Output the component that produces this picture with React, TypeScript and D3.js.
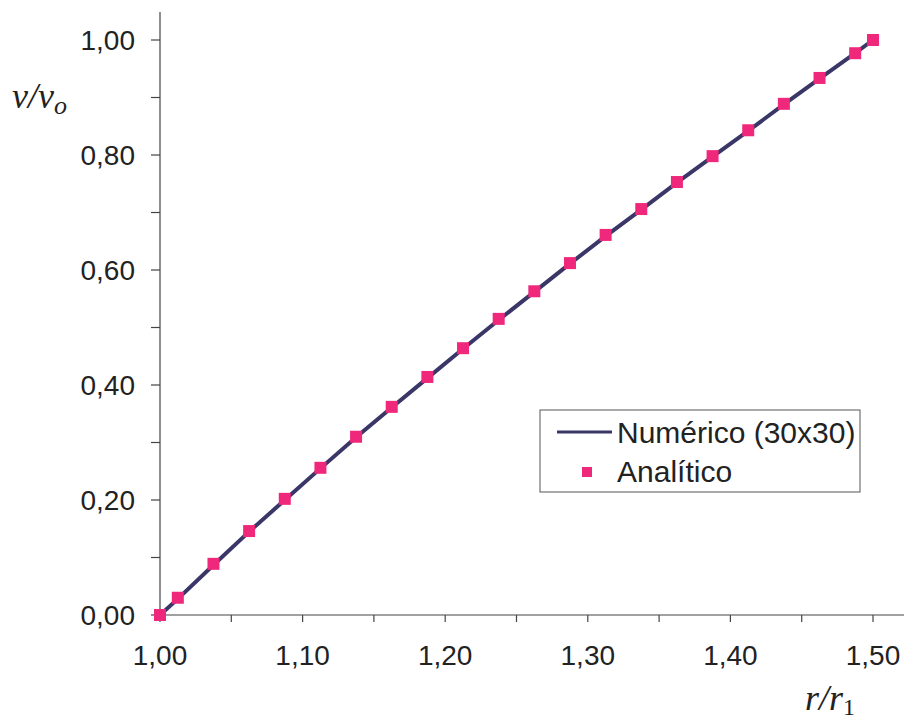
import React, { useRef, useEffect } from 'react';
import * as d3 from 'd3';

// r/r1 positions of the grid points
const radii = [1.0, 1.0125, 1.0375, 1.0625, 1.0875, 1.1125, 1.1375, 1.1625, 1.1875, 1.2125, 1.2375,
  1.2625, 1.2875, 1.3125, 1.3375, 1.3625, 1.3875, 1.4125, 1.4375, 1.4625, 1.4875, 1.5];
// analytic v/vo
const analytic = [0.0, 0.03, 0.089, 0.146, 0.202, 0.256, 0.31, 0.362, 0.414, 0.464, 0.515,
  0.563, 0.612, 0.661, 0.706, 0.753, 0.798, 0.843, 0.889, 0.934, 0.977, 1.0];
// numeric (30x30) v/vo
const numeric = [0.0, 0.028, 0.087, 0.145, 0.2, 0.255, 0.309, 0.361, 0.412, 0.463, 0.513,
  0.562, 0.611, 0.659, 0.705, 0.752, 0.797, 0.842, 0.888, 0.933, 0.977, 1.0];

const xTickLabels = [1.0, 1.1, 1.2, 1.3, 1.4, 1.5];
const yTickLabels = [0, 0.2, 0.4, 0.6, 0.8, 1.0];
const seriesNames = ['Numérico (30x30)', 'Analítico'];

const fmt = (d: number) => d.toFixed(2).replace('.', ',');

const App = () => {
  const svgRef = useRef<SVGSVGElement>(null);

  useEffect(() => {
    const width = 904;
    const height = 726;
    const svg = d3.select(svgRef.current)
      .attr('width', width)
      .attr('height', height)
      .style('background', 'white');
    svg.selectAll('*').remove();

    const x = d3.scaleLinear().domain([1.0, 1.5]).range([160, 873]);
    const y = d3.scaleLinear().domain([0, 1]).range([615, 40]);
    const font = 'Arial, "Liberation Sans", sans-serif';
    const axisColor = '#444';
    const lineColor = '#3a3768';
    const markColor = '#f0287c';

    // y axis line
    svg.append('line')
      .attr('x1', 160).attr('x2', 160)
      .attr('y1', 12).attr('y2', 615)
      .attr('stroke', axisColor).attr('stroke-width', 1.2);

    // x axis line
    svg.append('line')
      .attr('x1', 160).attr('x2', 904)
      .attr('y1', 615).attr('y2', 615)
      .attr('stroke', axisColor).attr('stroke-width', 1.2);

    // y ticks every 0.1
    svg.append('g').selectAll('line')
      .data(d3.range(0, 11).map(i => i / 10))
      .enter().append('line')
      .attr('x1', 151).attr('x2', 160)
      .attr('y1', d => y(d)).attr('y2', d => y(d))
      .attr('stroke', axisColor).attr('stroke-width', 1.2);

    svg.append('g').selectAll('text')
      .data(yTickLabels)
      .enter().append('text')
      .attr('x', 135)
      .attr('y', d => y(d) + 10)
      .attr('text-anchor', 'end')
      .attr('font-family', font)
      .attr('font-size', 28)
      .attr('fill', '#222')
      .text(d => fmt(d));

    // x ticks every 0.05
    svg.append('g').selectAll('line')
      .data(d3.range(0, 11).map(i => 1 + i * 0.05))
      .enter().append('line')
      .attr('x1', d => x(d)).attr('x2', d => x(d))
      .attr('y1', 615).attr('y2', 622)
      .attr('stroke', axisColor).attr('stroke-width', 1.2);

    svg.append('g').selectAll('text')
      .data(xTickLabels)
      .enter().append('text')
      .attr('x', d => x(d))
      .attr('y', 665)
      .attr('text-anchor', 'middle')
      .attr('font-family', font)
      .attr('font-size', 28)
      .attr('fill', '#222')
      .text(d => fmt(d));

    // axis titles
    const yTitle = svg.append('text')
      .attr('x', 12).attr('y', 108)
      .attr('font-family', '"Liberation Serif", "Times New Roman", serif')
      .attr('font-style', 'italic')
      .attr('font-size', 36)
      .attr('fill', '#222');
    yTitle.append('tspan').text('v/v');
    yTitle.append('tspan').attr('font-size', 26).attr('dy', 6).text('o');

    const xTitle = svg.append('text')
      .attr('x', 805).attr('y', 710)
      .attr('font-family', '"Liberation Serif", "Times New Roman", serif')
      .attr('font-style', 'italic')
      .attr('font-size', 36)
      .attr('fill', '#222');
    xTitle.append('tspan').text('r/r');
    xTitle.append('tspan').attr('font-size', 24).attr('font-style', 'normal').attr('dy', 5).text('1');

    // numeric line
    const line = d3.line<number>()
      .x((_, i) => x(radii[i]))
      .y(d => y(d));
    svg.append('path')
      .datum(numeric)
      .attr('d', line)
      .attr('fill', 'none')
      .attr('stroke', lineColor)
      .attr('stroke-width', 4);

    // analytic markers
    const ms = 12;
    svg.append('g').selectAll('rect')
      .data(analytic)
      .enter().append('rect')
      .attr('x', (_, i) => x(radii[i]) - ms / 2)
      .attr('y', d => y(d) - ms / 2)
      .attr('width', ms).attr('height', ms)
      .attr('fill', markColor);

    // legend
    const lg = svg.append('g');
    lg.append('rect')
      .attr('x', 540).attr('y', 410)
      .attr('width', 320).attr('height', 82)
      .attr('fill', 'white')
      .attr('stroke', '#555').attr('stroke-width', 1);
    lg.append('line')
      .attr('x1', 557).attr('x2', 612)
      .attr('y1', 432).attr('y2', 432)
      .attr('stroke', lineColor).attr('stroke-width', 3);
    lg.append('rect')
      .attr('x', 582).attr('y', 467)
      .attr('width', 10).attr('height', 10)
      .attr('fill', markColor);
    lg.selectAll('text.lab')
      .data(seriesNames)
      .enter().append('text')
      .attr('class', 'lab')
      .attr('x', 617)
      .attr('y', (_, i) => 443 + i * 39)
      .attr('font-family', font)
      .attr('font-size', 30)
      .attr('fill', '#222')
      .text(d => d);
  }, []);

  return <svg ref={svgRef} style={{ display: 'block', position: 'absolute', left: 0, top: 0 }}></svg>;
};

export default App;
